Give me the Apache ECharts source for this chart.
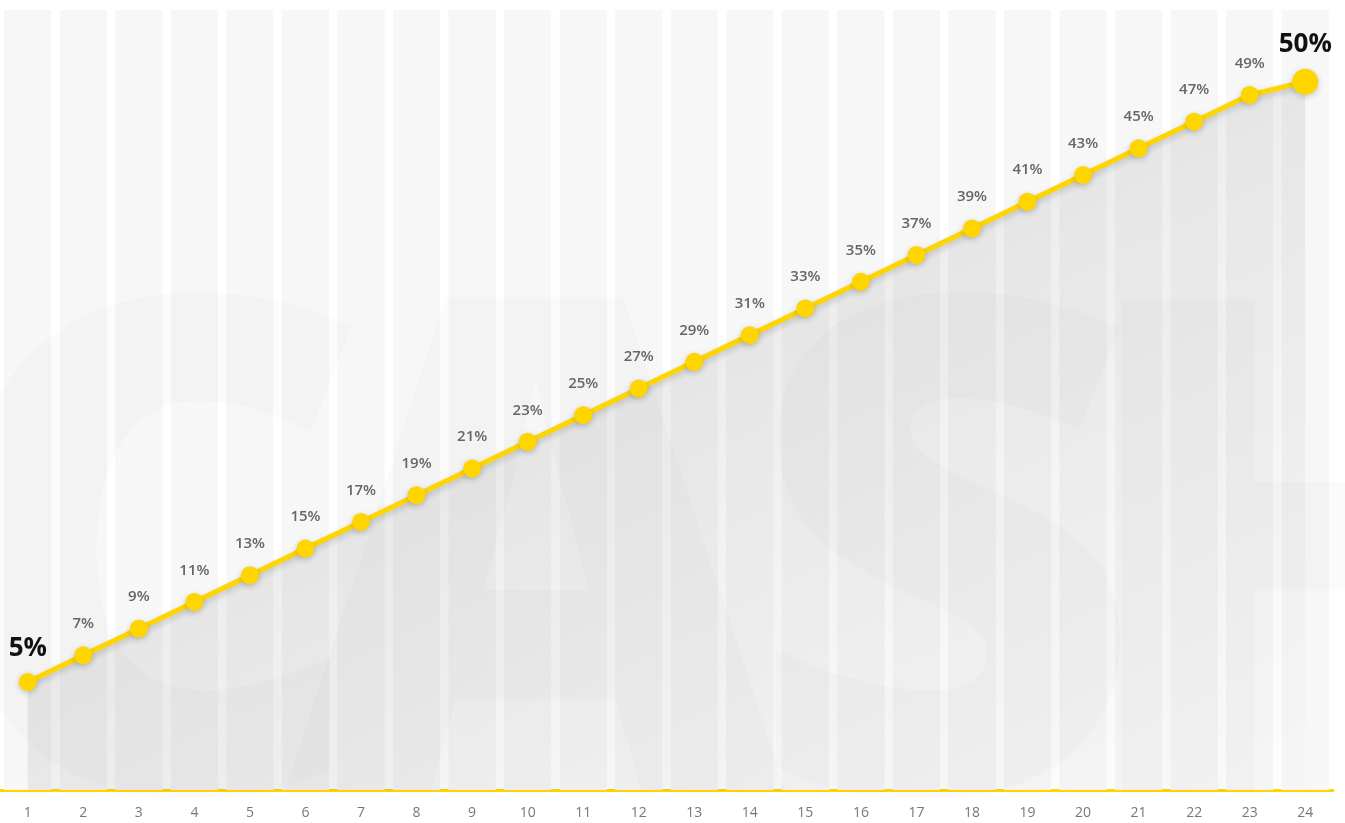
<!DOCTYPE html>
<html>
<head>
<meta charset="utf-8">
<style>
html,body{margin:0;padding:0;background:#fff;}
#chart{width:1345px;height:823px;}
</style>
<script src="https://cdn.jsdelivr.net/npm/echarts@6/dist/echarts.min.js"></script>
</head>
<body>
<div id="chart"></div>
<script>
const categories = ['1','2','3','4','5','6','7','8','9','10','11','12','13','14','15','16','17','18','19','20','21','22','23','24'];
const values = [5,7,9,11,13,15,17,19,21,23,25,27,29,31,33,35,37,39,41,43,45,47,49,50];
const watermarkLetters = ['C','A','S','H'];

const YELLOW = '#FFD500';
const last = values.length - 1;
const letterX = [-75, 285, 745, 1068];

const lineData = values.map((v, i) => {
  if (i === 0 || i === last) {
    return {
      value: v,
      symbolSize: i === last ? 26 : 18,
      label: {
        fontSize: 26, fontWeight: 'bold', color: '#111',
        distance: 11
      }
    };
  }
  return v;
});

const chart = echarts.init(document.getElementById('chart'));
chart.setOption({
  animation: false,
  backgroundColor: '#fff',
  grid: { left: 0, right: 12, top: 10, bottom: 33 },
  xAxis: {
    type: 'category',
    data: categories,
    boundaryGap: true,
    axisLine: { onZero: false, lineStyle: { color: YELLOW, width: 3 } },
    axisTick: { show: false },
    axisLabel: { color: '#777', fontSize: 14, fontFamily: 'Open Sans', margin: 16 },
    splitLine: { show: false }
  },
  yAxis: [
    { type: 'value', min: -3.095, max: 55.37, show: false, splitLine: { show: false } },
    { type: 'value', min: 0, max: 1, show: false, splitLine: { show: false } }
  ],
  graphic: {
    elements: watermarkLetters.map((ch, i) => ({
      type: 'text',
      z: 1.5,
      silent: true,
      x: letterX[i],
      y: 595,
      style: {
        text: ch,
        font: '800 690px "Open Sans"',
        fill: 'rgba(0,0,0,0.017)',
        verticalAlign: 'middle',
        align: 'left'
      }
    }))
  },
  series: [
    {
      type: 'bar',
      yAxisIndex: 1,
      z: 1,
      silent: true,
      data: categories.map(() => 1),
      barCategoryGap: '15%',
      itemStyle: { color: '#f7f7f7' }
    },
    {
      type: 'line',
      z: 1.2,
      silent: true,
      data: values,
      symbol: 'none',
      lineStyle: { width: 0, opacity: 0 },
      areaStyle: {
        origin: 'start',
        color: {
          type: 'linear', global: true,
          x: 666, y: 374, x2: 970, y2: 1005,
          colorStops: [
            { offset: 0, color: 'rgba(0,0,0,0.10)' },
            { offset: 1, color: 'rgba(0,0,0,0.0)' }
          ]
        }
      }
    },
    {
      type: 'line',
      z: 3,
      data: lineData,
      symbol: 'circle',
      symbolSize: 18,
      lineStyle: {
        color: YELLOW, width: 5,
        shadowColor: 'rgba(0,0,0,0.18)', shadowBlur: 6, shadowOffsetY: 3
      },
      itemStyle: {
        color: YELLOW,
        shadowColor: 'rgba(0,0,0,0.2)', shadowBlur: 6, shadowOffsetY: 2
      },
      label: {
        show: true,
        position: 'top',
        distance: 15,
        formatter: p => p.value + '%',
        color: '#666',
        fontSize: 15,
        fontWeight: 600,
        fontFamily: 'Open Sans'
      }
    }
  ]
});
</script>
</body>
</html>
